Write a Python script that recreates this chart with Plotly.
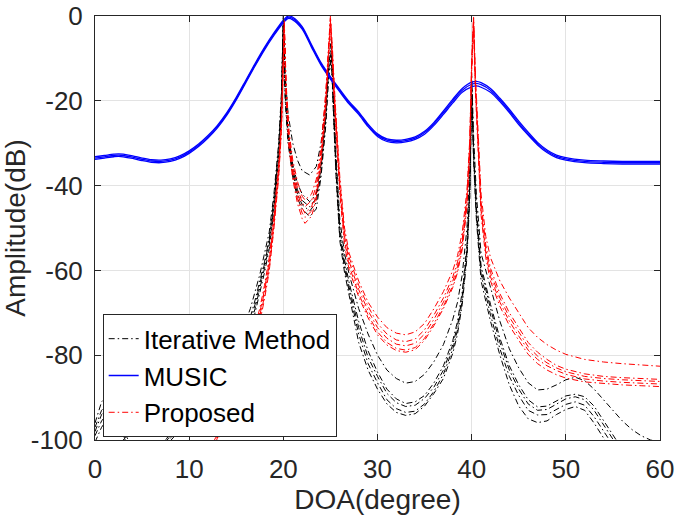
import plotly.graph_objects as go

# ---------------- data ----------------
x_ticks = [0, 10, 20, 30, 40, 50, 60]
y_ticks = [-100, -80, -60, -40, -20, 0]
y_ticktext = ["-100", "-80", "-60", "-40", "-20", "0"]

# Iterative Method (black, dash-dot), 5 runs
x_it = [0, 0.7, 2, 3.5, 5, 7.5, 10, 12, 14, 15, 16, 16.5, 17, 17.5, 18, 18.5, 19, 19.5, 19.8, 20,
        20.2, 20.5, 21, 21.5, 22, 22.8, 23.5, 24, 24.5, 24.8, 25.1, 25.3, 25.6, 26, 26.5, 27, 28, 29, 30, 31,
        32, 33, 34, 35, 36, 37, 38, 38.5, 39, 39.5, 39.8, 40, 40.2, 40.5, 41, 42, 43, 44, 45, 46,
        47, 48, 49, 50, 51, 52, 53, 54, 55, 56, 57, 58, 59, 60]
it_1 = [-96, -91, -88, -100, -108, -100, -91, -86, -80, -77, -72, -69, -65, -61, -56, -51, -42, -30, -18, 0,
        -14, -23, -30, -34, -36.5, -37.5, -35.5, -30, -20, -11, -5, -17, -33, -48, -56, -61, -69, -75, -80, -83.5,
        -85.5, -86.6, -86.2, -84.5, -81.5, -77.5, -71.5, -67.5, -61, -50, -36, -13.5, -28, -42, -56, -64, -72, -78.5, -83, -86.5,
        -88.2, -88, -87, -85.8, -85.2, -86, -88, -90.5, -93, -95.5, -97.5, -99, -100, -100.5]
it_2 = [-97, -93, -90, -101, -110, -100, -92, -87, -81, -78, -74, -71, -67, -62.5, -58, -52.5, -43, -31, -19, -0.5,
        -17, -27, -35, -39.5, -42, -43.8, -42, -35, -23, -12, -7, -19, -35, -50, -57.5, -63, -72, -79, -84, -88,
        -90.3, -91.4, -91, -89.5, -86.5, -82.5, -76.5, -72, -65, -54, -40, -15, -31, -45, -59, -68, -76, -82.5, -87, -90.5,
        -92.2, -92, -90.8, -89.6, -89.2, -89.8, -92, -95.5, -99, -102.5, -106, -109, -112, -115]
it_3 = [-98, -94, -91, -101.5, -111, -100.5, -93, -88, -82, -79, -75, -72, -68, -63.5, -58.5, -53, -44, -32, -20, -1,
        -18, -28, -36, -41, -43.5, -45, -43, -36, -24, -13, -8, -20, -36, -51, -58.5, -64, -73.5, -80.5, -85, -89,
        -91.2, -92.1, -91.8, -90.2, -87.5, -83.5, -77.5, -73, -66, -55, -41, -16, -32, -46, -60, -69, -77, -83.5, -88, -91.5,
        -93, -92.8, -91.5, -90.3, -89.8, -90.5, -93, -96.5, -100, -103.5, -107, -110, -113, -116]
it_4 = [-99, -95.5, -92, -102, -112, -101, -94, -89, -83, -80, -76, -73, -69, -64.5, -59.5, -54, -45, -33, -21, -1.5,
        -19, -29, -37, -42, -44.5, -46, -44, -37, -25, -14, -9, -21, -37, -52, -59.5, -65, -75, -82, -86.5, -90.5,
        -92.6, -93.5, -93.2, -91.5, -88.5, -84.5, -78.5, -74, -67, -56, -42, -17, -33, -47, -61, -70.5, -78.5, -85, -89.5, -93,
        -94.1, -94, -92.8, -91.6, -91, -91.8, -94.5, -98, -101.5, -105, -108, -111, -114, -117]
it_5 = [-100.5, -97, -93, -103, -113, -101.5, -95, -90, -84, -81, -77, -74, -70, -65.5, -60.5, -55, -46, -34, -22, -2,
        -20, -30, -38, -43, -45.5, -47.3, -45.5, -38, -26, -15, -10, -22, -38, -53, -60.5, -66, -77, -83.5, -88, -91.5,
        -93.5, -94.2, -93.8, -92, -89, -85.5, -79.5, -75, -68, -57, -43, -18, -34, -48, -62.5, -72, -80, -87, -92, -95,
        -95.9, -95.5, -94, -92.8, -92.1, -93, -96, -99.5, -103, -106.5, -110, -113, -116, -119]

# MUSIC (blue, solid), 3 runs
x_mu = [0, 1, 2, 2.5, 3, 4, 5, 6, 7, 8, 9, 10, 11, 12, 13, 14, 15, 16, 17, 18,
        19, 20, 20.5, 21, 22, 23, 24, 25, 26, 27, 28, 29, 30, 31, 32, 33, 34, 35, 36, 37,
        38, 39, 40, 40.5, 41, 42, 43, 44, 45, 46, 47, 48, 49, 50, 52, 54, 56, 58, 60]
mu_1 = [-33.2, -32.9, -32.6, -32.5, -32.6, -33.0, -33.5, -33.9, -34.0, -33.7, -33.0, -31.8, -30.2, -28.2, -25.8, -22.8, -19.2, -15.2, -11.2, -7.4,
        -4.0, -1.0, 0.0, -0.3, -2.5, -6.8, -11.0, -14.3, -17.3, -20.2, -22.6, -25.5, -27.8, -29.0, -29.3, -29.1, -28.5, -27.2, -25.1, -22.4,
        -19.6, -17.1, -15.6, -15.4, -15.7, -17.1, -19.4, -22.0, -24.8, -27.4, -29.8, -31.6, -32.8, -33.4, -34.0, -34.2, -34.3, -34.3, -34.3]
mu_2 = [-33.5, -33.2, -32.9, -32.8, -32.9, -33.3, -33.8, -34.2, -34.3, -34.0, -33.3, -32.1, -30.5, -28.5, -26.1, -23.1, -19.5, -15.5, -11.5, -7.7,
        -4.3, -1.3, -0.3, -0.6, -2.8, -7.1, -11.3, -14.6, -17.6, -20.5, -22.9, -25.8, -28.1, -29.3, -29.6, -29.4, -28.8, -27.5, -25.4, -22.8,
        -20.0, -17.5, -16.1, -15.9, -16.2, -17.5, -19.8, -22.4, -25.2, -27.8, -30.1, -31.9, -33.1, -33.7, -34.3, -34.5, -34.6, -34.6, -34.6]
mu_3 = [-33.8, -33.5, -33.2, -33.1, -33.2, -33.6, -34.1, -34.5, -34.6, -34.3, -33.6, -32.4, -30.8, -28.8, -26.4, -23.4, -19.8, -15.8, -11.8, -8.0,
        -4.6, -1.6, -0.6, -0.9, -3.1, -7.4, -11.6, -14.9, -17.9, -20.8, -23.2, -26.1, -28.4, -29.6, -29.9, -29.7, -29.1, -27.9, -25.8, -23.2,
        -20.5, -18.0, -16.7, -16.5, -16.8, -18.0, -20.2, -22.8, -25.6, -28.1, -30.4, -32.2, -33.4, -34.0, -34.6, -34.8, -34.9, -34.9, -34.9]

# Proposed (red, dash-dot), 5 runs
x_pr = [10, 12, 12.8, 14, 15, 16, 17, 17.5, 18, 18.5, 19, 19.5, 19.8, 20.1, 20.3, 20.6, 21, 21.5, 22, 22.3,
        23, 23.5, 24, 24.5, 24.8, 25, 25.2, 25.5, 26, 26.5, 27, 28, 29, 30, 31, 32, 33, 34, 35, 36,
        37, 38, 38.5, 39, 39.5, 39.8, 40, 40.2, 40.4, 40.7, 41, 41.5, 42, 43, 44, 45, 46, 47, 48, 49,
        50, 52, 54, 56, 58, 60]
pr_1 = [-112, -103, -99.5, -91, -85, -79, -73, -69, -63.5, -57, -47, -35, -24, -1, -16, -27, -34, -39, -42.5, -43.4,
        -42, -38.5, -31, -18, -6, 0, -7, -20, -38, -50, -56, -62.5, -67.5, -71, -73.5, -74.8, -75.2, -74.5, -72.5, -69,
        -65, -60, -56.5, -51, -41, -29, -10, 0, -14, -30, -42, -52, -57, -62.5, -66.5, -70, -73.5, -75.8, -77.5, -78.8,
        -79.8, -81, -81.6, -82, -82.3, -82.6]
pr_2 = [-114, -104.5, -100.2, -92, -86, -80, -74, -70, -64.5, -58, -48, -36, -25, -2, -17, -28, -35.5, -40.5, -44, -45,
        -43.5, -40, -32, -19, -7, -0.5, -8, -21, -39, -51, -57, -63.5, -68.5, -72.5, -75, -76.4, -76.8, -76.2, -74, -70.5,
        -66.5, -61.5, -58, -52.5, -42.5, -30, -11, -0.5, -15, -31, -44, -54, -59.5, -65.5, -70, -73.5, -77, -79.3, -81, -82.4,
        -83.3, -84.4, -85, -85.3, -85.5, -85.7]
pr_3 = [-115, -105.5, -100.8, -92.8, -86.8, -80.8, -74.8, -70.8, -65.2, -58.8, -48.8, -36.8, -25.8, -2.5, -18, -29, -36.5, -41.8, -45.3, -46.5,
        -45, -41.2, -33, -20, -8, -1, -9, -22, -40, -52, -58, -64.5, -69.5, -73.5, -76, -77.4, -77.8, -77.2, -75, -71.5,
        -67.5, -62.5, -59, -53.5, -43.5, -31, -12, -1, -16, -32, -45, -55, -60.5, -66.5, -71, -74.5, -78, -80.2, -81.8, -83,
        -83.9, -85, -85.5, -85.8, -86, -86.2]
pr_4 = [-116, -106.5, -101.5, -93.5, -87.5, -81.5, -75.5, -71.5, -66, -59.5, -49.5, -37.5, -26.5, -3, -19, -30, -37.5, -43, -46.5, -47.5,
        -46, -42.2, -34, -21, -9, -1.5, -10, -23, -41, -53, -59, -65.5, -70.5, -74.5, -77, -78.4, -78.8, -78.2, -76, -72.5,
        -68.5, -63.5, -60, -54.5, -44.5, -32, -13, -1.5, -17, -33, -46, -56, -61.5, -67.5, -72, -75.5, -78.8, -81, -82.5, -83.6,
        -84.5, -85.6, -86.1, -86.4, -86.6, -86.8]
pr_5 = [-117, -107.5, -102.2, -94.2, -88.2, -82.2, -76.2, -72.2, -66.8, -60.2, -50.2, -38.2, -27.2, -3.5, -20, -31, -38.5, -44.2, -47.8, -48.9,
        -47.2, -43.2, -35, -22, -10, -2, -11, -24, -42, -54, -60, -66.2, -71.2, -75.2, -77.6, -78.9, -79.3, -78.7, -76.5, -73,
        -69, -64, -60.5, -55, -45, -32.5, -13.5, -2, -18, -34, -47, -57, -62.5, -68.5, -73, -76.5, -79.8, -82, -83.5, -84.6,
        -85.4, -86.3, -86.7, -87, -87.2, -87.4]

# ---------------- figure ----------------
FONT = "Liberation Sans, Arial, Helvetica, sans-serif"
DASHDOT = "6px,3px,1.5px,3px"

fig = go.Figure()

it_runs = [it_1, it_2, it_3, it_4, it_5]
mu_runs = [mu_1, mu_2, mu_3]
pr_runs = [pr_1, pr_2, pr_3, pr_4, pr_5]

for i, yv in enumerate(it_runs):
    fig.add_trace(go.Scatter(x=x_it, y=yv, mode="lines", name="Iterative Method",
                             legendgroup="it", showlegend=(i == 0),
                             line=dict(color="black", width=1, dash=DASHDOT)))
for i, yv in enumerate(mu_runs):
    fig.add_trace(go.Scatter(x=x_mu, y=yv, mode="lines", name="MUSIC",
                             legendgroup="mu", showlegend=(i == 0),
                             line=dict(color="#0000ff", width=1.3, shape="spline", smoothing=0.8)))
for i, yv in enumerate(pr_runs):
    fig.add_trace(go.Scatter(x=x_pr, y=yv, mode="lines", name="Proposed",
                             legendgroup="pr", showlegend=(i == 0),
                             line=dict(color="#ff0000", width=1, dash=DASHDOT)))

axis_common = dict(
    showgrid=True, gridcolor="#e3e3e3", gridwidth=1,
    showline=True, linecolor="#262626", linewidth=1, mirror="ticks",
    ticks="inside", ticklen=6, tickcolor="#262626",
    tickfont=dict(family=FONT, size=26, color="#262626"),
    zeroline=False, automargin=False,
)

fig.update_layout(
    width=677, height=523,
    margin=dict(l=95, r=17, t=16, b=83),
    paper_bgcolor="white", plot_bgcolor="white",
    font=dict(family=FONT, color="#262626"),
    xaxis=dict(range=[0, 60], tickvals=x_ticks, ticklabelstandoff=6,
               title=dict(text="DOA(degree)", font=dict(family=FONT, size=28, color="#262626"), standoff=2),
               **axis_common),
    yaxis=dict(range=[-100, 0], tickvals=y_ticks, ticktext=y_ticktext, ticklabelstandoff=6,
               title=dict(text="Amplitude(dB)", font=dict(family=FONT, size=28, color="#262626"), standoff=2),
               **axis_common),
    legend=dict(x=0.0136, y=0.0064, xanchor="left", yanchor="bottom",
                bgcolor="white", bordercolor="#262626", borderwidth=1,
                font=dict(family=FONT, size=26, color="black"),
                tracegroupgap=0, traceorder="normal"),
    showlegend=True,
)

fig.write_html("out.html",
               config={"displayModeBar": False, "staticPlot": True},
               post_script="document.body.style.margin='0px';document.body.style.overflow='hidden';")
